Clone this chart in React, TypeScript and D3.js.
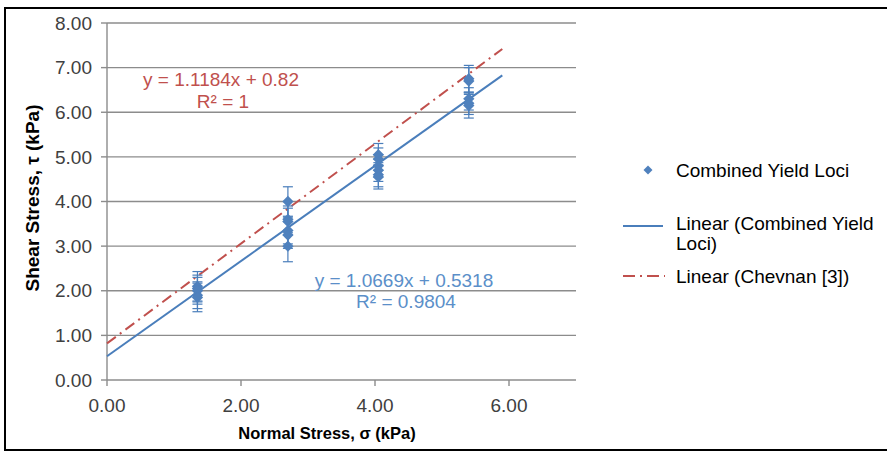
import React from 'react';
import * as d3 from 'd3';

// measured normal stress (kPa) for each point of the combined yield loci
const sigmaValues = [1.35, 1.35, 1.35, 1.35, 1.35, 2.7, 2.7, 2.7, 2.7, 2.7, 2.7, 4.05, 4.05, 4.05, 4.05, 4.05, 4.05, 5.4, 5.4, 5.4, 5.4, 5.4];
const tauValues = [2.1, 2.05, 2.0, 1.9, 1.85, 4.0, 3.6, 3.55, 3.35, 3.25, 3.0, 5.05, 4.95, 4.8, 4.7, 4.6, 4.55, 6.75, 6.7, 6.3, 6.2, 6.15];
const tauErrors = [0.33, 0.3, 0.3, 0.3, 0.32, 0.33, 0.3, 0.3, 0.3, 0.3, 0.35, 0.25, 0.25, 0.25, 0.25, 0.27, 0.27, 0.3, 0.3, 0.25, 0.25, 0.28];

// trendlines: slope, intercept, end of the drawn range
const combinedFit = [1.0669, 0.5318];
const chevnanFit = [1.1184, 0.82];
const fitRange = [0, 5.9];

const xTicks = [0, 2, 4, 6];
const yTicks = [0, 1, 2, 3, 4, 5, 6, 7, 8];

const W = 887;
const H = 452;
const plot = { left: 107, right: 576, top: 23, bottom: 380 };

const blue = '#4F81BD';
const lineBlue = '#4A7EBB';
const red = '#C0504D';
const grid = '#8C8C8C';
const labelColor = '#404040';
const font = 'Arial, "Liberation Sans", sans-serif';

export default function App() {
  const x = d3.scaleLinear().domain([0, 7]).range([plot.left, plot.right]);
  const y = d3.scaleLinear().domain([0, 8]).range([plot.bottom, plot.top]);

  const line = d3.line<number>().x(d => x(d)).y(d => y(d));
  const fitLine = (fit: number[]) => line.y(d => y(fit[0] * d + fit[1]))(fitRange) || '';

  const diamond = d3.symbol(d3.symbolSquare, 64)() || '';
  const legendDiamond = d3.symbol(d3.symbolSquare, 40)() || '';

  const points = sigmaValues.map((s, i) => ({ s, t: tauValues[i], e: tauErrors[i] }));

  return (
    <svg width={W} height={H} style={{ position: 'absolute', left: 0, top: 0, background: '#fff' }} fontFamily={font}>
      <rect x={5} y={8} width={886} height={442} fill="#fff" stroke="#000" strokeWidth={2} />

      {/* gridlines */}
      {yTicks.filter(t => t > 0).map(t => (
        <line key={'g' + t} x1={plot.left} x2={plot.right} y1={y(t)} y2={y(t)} stroke={grid} strokeWidth={1.4} />
      ))}

      {/* axes */}
      <line x1={plot.left} x2={plot.right} y1={y(0)} y2={y(0)} stroke={grid} strokeWidth={1.4} />
      <line x1={plot.left} x2={plot.left} y1={y(8)} y2={y(0)} stroke={grid} strokeWidth={1.4} />
      {yTicks.map(t => (
        <g key={'yt' + t}>
          <line x1={plot.left - 6} x2={plot.left} y1={y(t)} y2={y(t)} stroke={grid} strokeWidth={1.4} />
          <text x={92} y={y(t)} dy="0.35em" textAnchor="end" fontSize={19} fill={labelColor}>{t.toFixed(2)}</text>
        </g>
      ))}
      {xTicks.map(t => (
        <g key={'xt' + t}>
          <line x1={x(t)} x2={x(t)} y1={y(0)} y2={y(0) + 6} stroke={grid} strokeWidth={1.4} />
          <text x={x(t)} y={405} dy="0.35em" textAnchor="middle" fontSize={19} fill={labelColor}>{t.toFixed(2)}</text>
        </g>
      ))}

      {/* axis titles */}
      <text x={327} y={433} dy="0.35em" textAnchor="middle" fontSize={16.5} fontWeight="bold" fill="#000">Normal Stress, σ (kPa)</text>
      <text transform={`translate(32,198) rotate(-90)`} dy="0.35em" textAnchor="middle" fontSize={19} fontWeight="bold" fill="#000">Shear Stress, τ (kPa)</text>

      {/* trendlines */}
      <path d={fitLine(combinedFit)} fill="none" stroke={lineBlue} strokeWidth={2} />
      <path d={fitLine(chevnanFit)} fill="none" stroke={red} strokeWidth={2} strokeDasharray="11,5,2,5" />

      {/* error bars */}
      {points.map((p, i) => (
        <g key={'e' + i} stroke={lineBlue} strokeWidth={1.2}>
          <line x1={x(p.s)} x2={x(p.s)} y1={y(p.t - p.e)} y2={y(p.t + p.e)} />
          <line x1={x(p.s) - 5} x2={x(p.s) + 5} y1={y(p.t - p.e)} y2={y(p.t - p.e)} />
          <line x1={x(p.s) - 5} x2={x(p.s) + 5} y1={y(p.t + p.e)} y2={y(p.t + p.e)} />
        </g>
      ))}

      {/* markers */}
      {points.map((p, i) => (
        <path key={'m' + i} d={diamond} transform={`translate(${x(p.s)},${y(p.t)}) rotate(45)`} fill={blue} />
      ))}

      {/* trendline labels */}
      <text x={221} y={79} dy="0.35em" textAnchor="middle" fontSize={19} fill={red}>y = 1.1184x + 0.82</text>
      <text x={223} y={101} dy="0.35em" textAnchor="middle" fontSize={19} fill={red}>R² = 1</text>
      <text x={404} y={280} dy="0.35em" textAnchor="middle" fontSize={19} fill="#5B8FC9">y = 1.0669x + 0.5318</text>
      <text x={406} y={301} dy="0.35em" textAnchor="middle" fontSize={19} fill="#5B8FC9">R² = 0.9804</text>

      {/* legend */}
      <path d={legendDiamond} transform="translate(648,170) rotate(45)" fill={blue} />
      <text x={676} y={170} dy="0.35em" fontSize={19} fill="#000">Combined Yield Loci</text>
      <line x1={623} x2={663} y1={226} y2={226} stroke={lineBlue} strokeWidth={2} />
      <text x={676} y={223} dy="0.35em" fontSize={19} fill="#000">Linear (Combined Yield</text>
      <text x={676} y={243} dy="0.35em" fontSize={19} fill="#000">Loci)</text>
      <line x1={623} x2={665} y1={276} y2={276} stroke={red} strokeWidth={2} strokeDasharray="12,5,2,5" />
      <text x={676} y={276} dy="0.35em" fontSize={19} fill="#000">Linear (Chevnan [3])</text>
    </svg>
  );
}
